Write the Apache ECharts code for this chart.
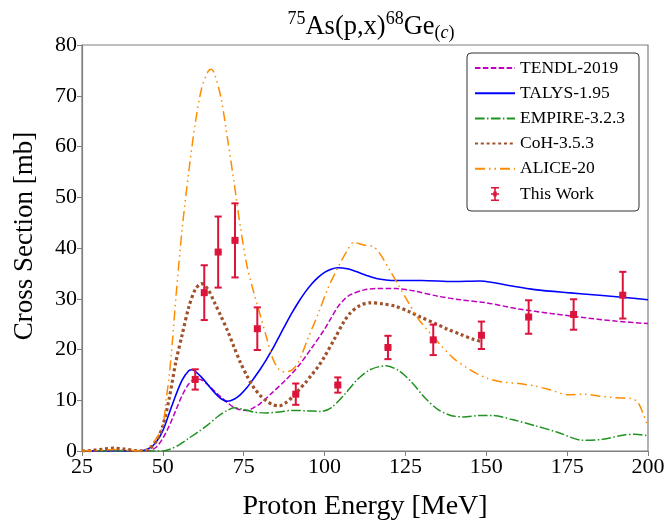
<!DOCTYPE html>
<html>
<head>
<meta charset="utf-8">
<script src="https://cdn.jsdelivr.net/npm/echarts@6/dist/echarts.min.js"></script>
<style>
html,body{margin:0;padding:0;background:#fff;}
#chart{width:668px;height:526px;}
</style>
</head>
<body>
<div id="chart"></div>
<script>
// ---------- data ----------
const xTicks = [25, 50, 75, 100, 125, 150, 175, 200];
const yTicks = [0, 10, 20, 30, 40, 50, 60, 70, 80];

const tendlE = [25,40,44,46,48,50,52,54,56,58,60,62,64,66,68,70,72,74,76,78,80,84,88,92,96,100,102,104,106,108,112,116,122,128,135,142,150,160,170,180,190,200];
const tendlY = [0,0,0,0.1,0.8,2.5,5,8,11,13.2,14.2,14,13,11.8,10.6,9.5,8.6,8.1,8.0,8.5,9.3,11.6,14,16.8,20.3,24,26.2,28.3,29.8,30.8,31.7,32,32,31.5,30.5,29.8,29.2,28,27.1,26.3,25.6,25.1];

const talysE = [25,40,44,46,48,50,52,54,56,58,59,60,62,64,66,68,70,72,74,76,78,80,82,84,86,88,90,92,94,96,98,100,102,104,107,110,113,116,119,122,130,140,148,152,158,165,175,185,192,200];
const talysY = [0,0,0.1,0.6,1.8,4,7.5,11,14,15.8,16,15.7,14.5,13,11.5,10.3,9.8,10.2,11.1,12.5,14.2,16,18,20.2,22.6,25,27.3,29.4,31.3,32.9,34.2,35.2,35.8,36.1,35.9,35.3,34.6,34,33.7,33.6,33.6,33.4,33.5,33.2,32.5,31.8,31.2,30.7,30.3,29.8];

const empireE = [25,40,50,52,55,58,61,64,67,70,72,75,78,82,86,90,95,99,102,106,110,114,119,123,127,131,135,139,143,148,152,158,165,172,180,186,192,196,200];
const empireY = [0,0,0,0.3,1.2,2.5,3.8,5.2,6.8,8.0,8.5,8.2,7.7,7.5,7.7,8.0,7.9,7.8,8.5,11,14,16,16.8,15.8,13.5,10.5,8.2,7,6.7,7,7,6.2,5,3.7,2.1,2.3,3.1,3.3,3.0];

const cohE = [25,28,32,35,38,41,44,46,48,50,52,54,56,58,60,62,64,66,68,70,72,74,76,78,80,82,84,86,88,90,92,94,96,98,100,103,106,108,111,114,118,122,126,130,134,138,142,146,149];
const cohY = [0,0.1,0.4,0.55,0.4,0.1,0.05,0.5,2,5,10.5,17.5,23,28.3,31.8,33,31.8,29.2,26.5,23.7,20.5,17.4,14.8,12.6,11,9.9,9.1,8.9,9.5,10.6,12,13.4,15,16.6,18.6,22,25.5,27.2,28.7,29.2,29,28.5,27.5,26.3,25.2,24,23,22,21.5];

const aliceE = [25,30,35,40,44,46,48,50,51,52,53,54,56,58,60,62,64,65,66,68,70,72,74,76,78,80,82,84,86,88,90,92,95,98,101,104,107,109,112,115,117,120,123,126,129,132,136,140,145,150,155,160,165,170,175,180,185,190,195,197,200];
const aliceY = [0,0.1,0.3,0.1,0,1,2.5,5,10,15,22,30,44,55,64.5,71.5,74.8,75.2,74.3,69.5,61.5,53,44,36.5,31.5,27,22.5,18.2,16,15.6,16,17.6,22.4,27,32,36,39.5,41.1,40.6,40.3,39,35.8,32.5,29.2,26,23.7,20.8,18.2,16,14.4,13.6,13.3,12.8,12,11.1,11.2,10.8,10.5,10.3,9.5,4.8];

const expE = [60.0,62.8,67.1,72.3,79.2,91.1,104.1,119.6,133.6,148.5,163.1,177.0,192.2];
const expY = [14.1,31.2,39.2,41.5,24.1,11.2,13.0,20.4,21.9,22.8,26.4,26.9,30.7];
const expYErr = [2.0,5.4,7.0,7.3,4.2,2.1,1.5,2.3,3.0,2.7,3.3,3.0,4.6];
const expEErr = [1,1,1,1,1,1,1,1,1,1,1,1,1];

const seriesNames = ['TENDL-2019','TALYS-1.95','EMPIRE-3.2.3','CoH-3.5.3','ALICE-20','This Work'];

// ---------- build ----------
const FONT = '"Liberation Serif", "Times New Roman", serif';
const zip = (a, b) => a.map((v, i) => [v, b[i]]);
const ERR = '#dc143c';

function lineSeries(name, E, Y, color, width, type, cap) {
  return {
    name, type: 'line', data: zip(E, Y), showSymbol: false, symbol: 'none',
    smooth: 0.3, z: 3,
    lineStyle: { color, width, type, cap: cap || 'butt' },
    itemStyle: { color }
  };
}

const errData = expE.map((e, i) => [e, expY[i], expYErr[i], expEErr[i]]);

const legendIcon = 'path://M0,0 M38,14 M15,0H23V1.6H19.8V12.4H23V14H15V12.4H18.2V1.6H15Z M15,6.2H23V7.8H15Z M17.3,4.6H20.7V9.4H17.3Z';

const option = {
  animation: false,
  backgroundColor: '#fff',
  title: {
    text: '{sup|75}{b|As(p,x)}{sup|68}{b|Ge}{sub|(}{subi|c}{sub|)}',
    left: 366, top: 5, textAlign: 'center',
    textStyle: {
      fontWeight: 'normal',
      rich: {
        b: { fontFamily: FONT, fontSize: 26.5, fontWeight: 'normal', color: '#000' },
        sup: { fontFamily: FONT, fontSize: 18, fontWeight: 'normal', color: '#000', padding: [0, 0, 16, 0] },
        sub: { fontFamily: FONT, fontSize: 18, fontWeight: 'normal', color: '#000', padding: [12, 0, 0, 0] },
        subi: { fontFamily: FONT, fontSize: 18, fontWeight: 'normal', fontStyle: 'italic', color: '#000', padding: [12, 0, 0, 0] }
      }
    }
  },
  grid: { left: 82, right: 20, top: 45, bottom: 61, show: true, borderColor: '#7f7f7f', borderWidth: 1.2, backgroundColor: 'transparent' },
  xAxis: {
    type: 'value', min: xTicks[0], max: xTicks[xTicks.length - 1], interval: 25,
    name: 'Proton Energy [MeV]', nameLocation: 'middle', nameGap: 42,
    nameTextStyle: { fontFamily: FONT, fontSize: 28, color: '#000' },
    axisLine: { show: true, lineStyle: { color: '#7f7f7f', width: 1.2 } },
    axisTick: { show: true, inside: false, length: 5, lineStyle: { color: '#7f7f7f' } },
    axisLabel: { fontFamily: FONT, fontSize: 22, color: '#000', margin: 5 },
    splitLine: { show: false }
  },
  yAxis: {
    type: 'value', min: yTicks[0], max: yTicks[yTicks.length - 1], interval: 10,
    name: 'Cross Section [mb]', nameLocation: 'middle', nameGap: 44,
    nameTextStyle: { fontFamily: FONT, fontSize: 27, color: '#000', padding: [0, 0, 0, 24] },
    axisLine: { show: true, lineStyle: { color: '#7f7f7f', width: 1.2 } },
    axisTick: { show: true, inside: false, length: 5, lineStyle: { color: '#7f7f7f' } },
    axisLabel: { fontFamily: FONT, fontSize: 22, color: '#000', margin: 5 },
    splitLine: { show: false }
  },
  legend: {
    orient: 'vertical', left: 467, top: 53,
    backgroundColor: '#fff', borderColor: '#333', borderWidth: 1, borderRadius: 4,
    padding: [6, 14, 8, 7],
    itemWidth: 40, itemHeight: 14, itemGap: 7.2,
    itemStyle: { opacity: 0 },
    textStyle: { fontFamily: FONT, fontSize: 17.5, color: '#000' },
    data: seriesNames.slice(0, 5).map(n => ({ name: n })).concat([{ name: 'This Work', icon: legendIcon, itemStyle: { color: ERR, opacity: 1 } }])
  },
  series: [
    lineSeries(seriesNames[0], tendlE, tendlY, '#bf00bf', 1.5, [5.5, 2.4]),
    lineSeries(seriesNames[1], talysE, talysY, '#0000ff', 1.6, 'solid'),
    lineSeries(seriesNames[2], empireE, empireY, '#1f921f', 1.5, [9.6, 2.4, 1.5, 2.4]),
    lineSeries(seriesNames[3], cohE, cohY, '#a0522d', 3.2, [3, 2.8]),
    lineSeries(seriesNames[4], aliceE, aliceY, '#ff8c00', 1.5, [10, 4, 1.5, 4, 1.5, 4]),
    {
      name: seriesNames[5], type: 'custom', data: errData, z: 5,
      encode: { x: 0, y: 1 },
      itemStyle: { color: ERR },
      renderItem: function (params, api) {
        const x = api.value(0), y = api.value(1), ye = api.value(2), xe = api.value(3);
        const c = api.coord([x, y]);
        const t = api.coord([x, y + ye]);
        const b = api.coord([x, y - ye]);
        const l = api.coord([x - xe, y]);
        const r = api.coord([x + xe, y]);
        const cap = 3.6;
        const st = { stroke: ERR, lineWidth: 2, fill: null };
        return {
          type: 'group',
          children: [
            { type: 'line', shape: { x1: t[0], y1: t[1], x2: b[0], y2: b[1] }, style: st },
            { type: 'line', shape: { x1: t[0] - cap, y1: t[1], x2: t[0] + cap, y2: t[1] }, style: st },
            { type: 'line', shape: { x1: b[0] - cap, y1: b[1], x2: b[0] + cap, y2: b[1] }, style: st },
            { type: 'line', shape: { x1: l[0], y1: l[1], x2: r[0], y2: r[1] }, style: st },
            { type: 'rect', shape: { x: c[0] - 3.5, y: c[1] - 3.5, width: 7, height: 7 }, style: { fill: ERR } }
          ]
        };
      }
    }
  ]
};

const chart = echarts.init(document.getElementById('chart'), null, { renderer: 'canvas' });
chart.setOption(option);
</script>
</body>
</html>
